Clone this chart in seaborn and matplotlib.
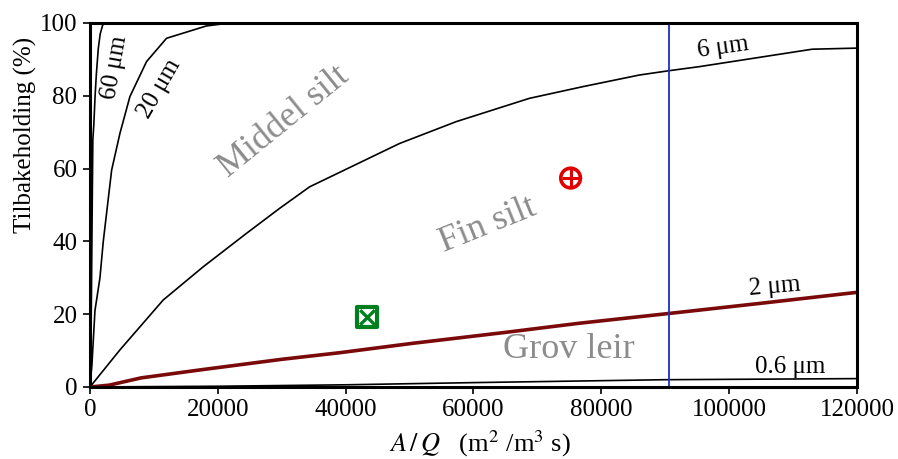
import numpy as np
import pandas as pd
import matplotlib
matplotlib.use("Agg")
import matplotlib.pyplot as plt
import seaborn as sns

# Kurver (A/Q i m2/m3 s, tilbakeholding i %)
x_60 = [0, 150, 250, 350, 450, 600, 800, 1000, 1300, 1600, 2000, 2600, 120000]
y_60 = [0, 12, 30, 50, 68, 72, 80, 86, 93, 97, 99.5, 100, 100]

x_20 = [0, 300, 780, 1560, 2080, 3390, 4690, 6250, 8850, 11980, 18230, 21900, 120000]
y_20 = [0, 6, 21, 30, 40, 59.6, 69.7, 79.8, 89.4, 95.8, 99.2, 100, 100]

x_6 = [0, 4690, 11460, 17700, 24480, 29690, 34375, 48440, 57300, 68750, 77080,
       85940, 90625, 95310, 113000, 120000]
y_6 = [0, 10.2, 23.9, 33.0, 42.2, 49.1, 55.0, 66.9, 72.9, 79.3, 82.5,
       85.7, 86.9, 88.0, 92.8, 93.1]

x_2 = [0, 3000, 8000, 17700, 30000, 39000, 50500, 65000, 76500, 90600, 105000, 120000]
y_2 = [0, 0.5, 2.5, 4.8, 7.6, 9.4, 12.0, 15.0, 17.5, 20.2, 23.0, 26.0]

x_06 = [0, 20000, 40000, 60000, 90000, 120000]
y_06 = [0, 0.2, 0.6, 1.2, 2.0, 2.3]

# Vertikal linje og maalepunkter
x_blue = 90600
punkt_rod = (75200, 57.4)
punkt_gronn = (43300, 19.2)

sns.set_style("ticks")
plt.rcParams['font.family'] = ['Liberation Serif', 'DejaVu Serif']
plt.rcParams['mathtext.fontset'] = 'stix'
plt.rcParams['text.color'] = 'black'
plt.rcParams['axes.labelcolor'] = 'black'
plt.rcParams['xtick.color'] = 'black'
plt.rcParams['ytick.color'] = 'black'

fig = plt.figure(figsize=(8.98, 4.59), dpi=100)
ax = fig.add_axes([0.1002, 0.1569, 0.8541, 0.7930])

kurver = [(x_60, y_60, 'black', 1.2),
          (x_20, y_20, 'black', 1.2),
          (x_6, y_6, 'black', 1.2),
          (x_06, y_06, 'black', 1.2),
          (x_2, y_2, '#7a0a0a', 2.6)]
for xs, ys, farge, lw in kurver:
    df = pd.DataFrame({'x': xs, 'y': ys})
    sns.lineplot(data=df, x='x', y='y', color=farge, linewidth=lw,
                 estimator=None, sort=False, ax=ax)

ax.axvline(x_blue, color='#1a2fc0', linewidth=1.3)

# Rod sirkel med kryss
rod = pd.DataFrame({'x': [punkt_rod[0]], 'y': [punkt_rod[1]]})
sns.scatterplot(data=rod, x='x', y='y', marker='o', s=200, facecolor='none',
                edgecolor='#e00000', linewidth=2.6, ax=ax, zorder=5)
sns.scatterplot(data=rod, x='x', y='y', marker='+', s=150, color='#e00000',
                linewidth=2.2, ax=ax, zorder=5)

# Gronn firkant med kryss
gronn = pd.DataFrame({'x': [punkt_gronn[0]], 'y': [punkt_gronn[1]]})
sns.scatterplot(data=gronn, x='x', y='y', marker='s', s=190, facecolor='white',
                edgecolor='#007f1f', linewidth=3.0, ax=ax, zorder=5)
sns.scatterplot(data=gronn, x='x', y='y', marker='x', s=110, color='#007f1f',
                linewidth=2.4, ax=ax, zorder=6)

ax.set_xlim(0, 120000)
ax.set_ylim(0, 100)
ax.set_xticks(np.arange(0, 120001, 20000))
ax.set_yticks(np.arange(0, 101, 20))
ax.tick_params(axis='both', labelsize=18, length=5, width=1.2, direction='out',
               pad=4)
for sp in ax.spines.values():
    sp.set_visible(True)
    sp.set_linewidth(2.2)
    sp.set_color('black')

ax.set_ylabel('Tilbakeholding (%)', fontsize=18)
ax.yaxis.set_label_coords(-0.069, 0.692)
ax.set_xlabel(r'$A\,/\,Q$   (m$^2$ /m$^3$ s)', fontsize=19)
ax.xaxis.set_label_coords(0.509, -0.115)

# Kurvetekster
ax.text(3800, 87.8, '60 μm', fontsize=18, rotation=80, ha='center', va='center')
ax.text(10900, 82, '20 μm', fontsize=18, rotation=60, ha='center', va='center')
ax.text(99000, 93.3, '6 μm', fontsize=18, rotation=8, ha='center', va='center')
ax.text(107200, 27.6, '2 μm', fontsize=18, rotation=5, ha='center', va='center')
ax.text(109500, 5.5, '0.6 μm', fontsize=18, ha='center', va='center')

# Omraadetekster
ax.text(30300, 72.8, 'Middel silt', fontsize=26, color='#8c8c8c', rotation=39,
        ha='center', va='center')
ax.text(62300, 44.5, 'Fin silt', fontsize=26, color='#8c8c8c', rotation=22,
        ha='center', va='center')
ax.text(74900, 10.3, 'Grov leir', fontsize=26, color='#8c8c8c',
        ha='center', va='center')

fig.savefig('out.png', dpi=100)
